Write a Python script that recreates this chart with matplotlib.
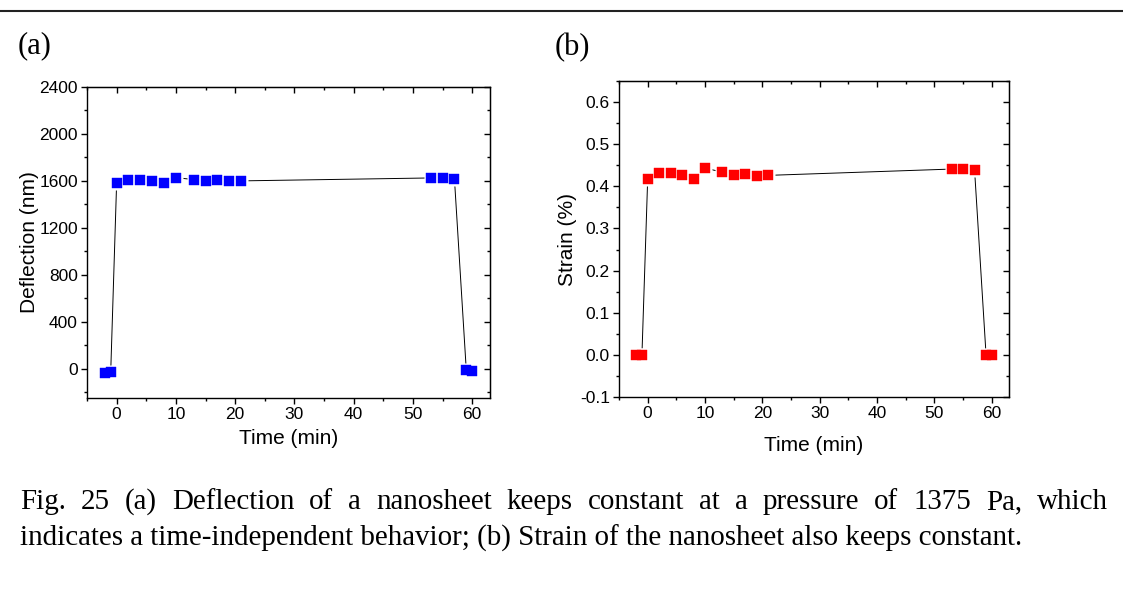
import numpy as np
import matplotlib
matplotlib.use('Agg')
import matplotlib.pyplot as plt
from matplotlib.ticker import MultipleLocator

# values
time_min   = [-2, -1, 0, 2, 4, 6, 8, 10, 13, 15, 17, 19, 21, 53, 55, 57, 59, 60]
deflection = [-35, -30, 1583, 1608, 1608, 1600, 1586, 1628, 1611, 1600,
              1608, 1600, 1600, 1625, 1625, 1617, -14, -23]
strain     = [0.0, 0.0, 0.417, 0.432, 0.432, 0.428, 0.418, 0.443, 0.434, 0.428,
              0.429, 0.424, 0.426, 0.441, 0.441, 0.438, 0.0, 0.0]

caption_1 = "Fig. 25 (a) Deflection of a nanosheet keeps constant at a pressure of 1375 Pa, which"
caption_2 = "indicates a time-independent behavior; (b) Strain of the nanosheet also keeps constant."

plt.rcParams['font.family'] = ['Liberation Sans', 'DejaVu Sans']
plt.rcParams['axes.unicode_minus'] = False

W, H = 1123, 613


def style_axis(ax, xmaj, xmin, ymaj, ymin):
    '''origin style: outward ticks left/bottom, inward mirror ticks top/right'''
    ax.xaxis.set_major_locator(MultipleLocator(xmaj))
    ax.xaxis.set_minor_locator(MultipleLocator(xmin))
    ax.yaxis.set_major_locator(MultipleLocator(ymaj))
    ax.yaxis.set_minor_locator(MultipleLocator(ymin))
    ax.tick_params(which='both', direction='out', labelsize=12.5, width=1.0, pad=2)
    ax.tick_params(which='major', length=4.5)
    ax.tick_params(which='minor', length=2.5)
    for s in ax.spines.values():
        s.set_linewidth(1.0)

    top = ax.secondary_xaxis('top')
    top.xaxis.set_major_locator(MultipleLocator(xmaj))
    top.xaxis.set_minor_locator(MultipleLocator(xmin))
    top.tick_params(which='both', direction='in', labeltop=False, width=1.0)
    top.tick_params(which='major', length=4.5)
    top.tick_params(which='minor', length=2.5)

    right = ax.secondary_yaxis('right')
    right.yaxis.set_major_locator(MultipleLocator(ymaj))
    right.yaxis.set_minor_locator(MultipleLocator(ymin))
    right.tick_params(which='both', direction='in', labelright=False, width=1.0)
    right.tick_params(which='major', length=4.5)
    right.tick_params(which='minor', length=2.5)


def draw_series(ax, x, y, color):
    # line first, then white squares to cut a gap, then the coloured squares
    ax.plot(x, y, color='k', lw=0.7, zorder=2)
    ax.plot(x, y, ls='none', marker='s', ms=9.8, mfc='white', mec='none', zorder=3)
    ax.plot(x, y, ls='none', marker='s', ms=7.0, mfc=color, mec=color, mew=0.3, zorder=4)


fig = plt.figure(figsize=(W / 100, H / 100), dpi=100)

# (a) deflection
ax1 = fig.add_axes([87 / W, 1 - 398 / H, 403 / W, 311 / H])
draw_series(ax1, time_min, deflection, '#0000ff')
ax1.set_xlim(-5, 63)
ax1.set_ylim(-250, 2400)
style_axis(ax1, 10, 5, 400, 200)
ax1.set_xlabel('Time (min)', fontsize=15, labelpad=5)
ax1.set_ylabel('Deflection (nm)', fontsize=15, labelpad=0)

# (b) strain
ax2 = fig.add_axes([619 / W, 1 - 397 / H, 390 / W, 316 / H])
draw_series(ax2, time_min, strain, '#ff0000')
ax2.set_xlim(-5, 63)
ax2.set_ylim(-0.1, 0.65)
style_axis(ax2, 10, 5, 0.1, 0.05)
ax2.yaxis.set_major_formatter(matplotlib.ticker.FormatStrFormatter('%.1f'))
ax2.set_xlabel('Time (min)', fontsize=15, labelpad=11)
ax2.set_ylabel('Strain (%)', fontsize=15, labelpad=2)

# top rule of the page
fig.add_artist(plt.Line2D([0, 1], [1 - 10.5 / H, 1 - 10.5 / H], color='#222222', lw=1.5))

serif = ['Liberation Serif', 'DejaVu Serif']
fig.text(18 / W, 1 - 53 / H, '(a)', family=serif, fontsize=22, va='baseline')
fig.text(555 / W, 1 - 55 / H, '(b)', family=serif, fontsize=22, va='baseline')

# caption, first line justified between the two margins
cap_size = 20.9
left_px, right_px = 20, 1108
words = caption_1.split()
renderer = fig.canvas.get_renderer()
items = [fig.text(0, 1 - 509 / H, w, family=serif, fontsize=cap_size, va='baseline') for w in words]
widths = [t.get_window_extent(renderer).width for t in items]
gap = (right_px - left_px - sum(widths)) / (len(words) - 1)
xpos = left_px
for t, w in zip(items, widths):
    t.set_x(xpos / W)
    xpos += w + gap

fig.text(left_px / W, 1 - 546 / H, caption_2, family=serif, fontsize=cap_size, va='baseline')

fig.savefig('out.png', dpi=100)
